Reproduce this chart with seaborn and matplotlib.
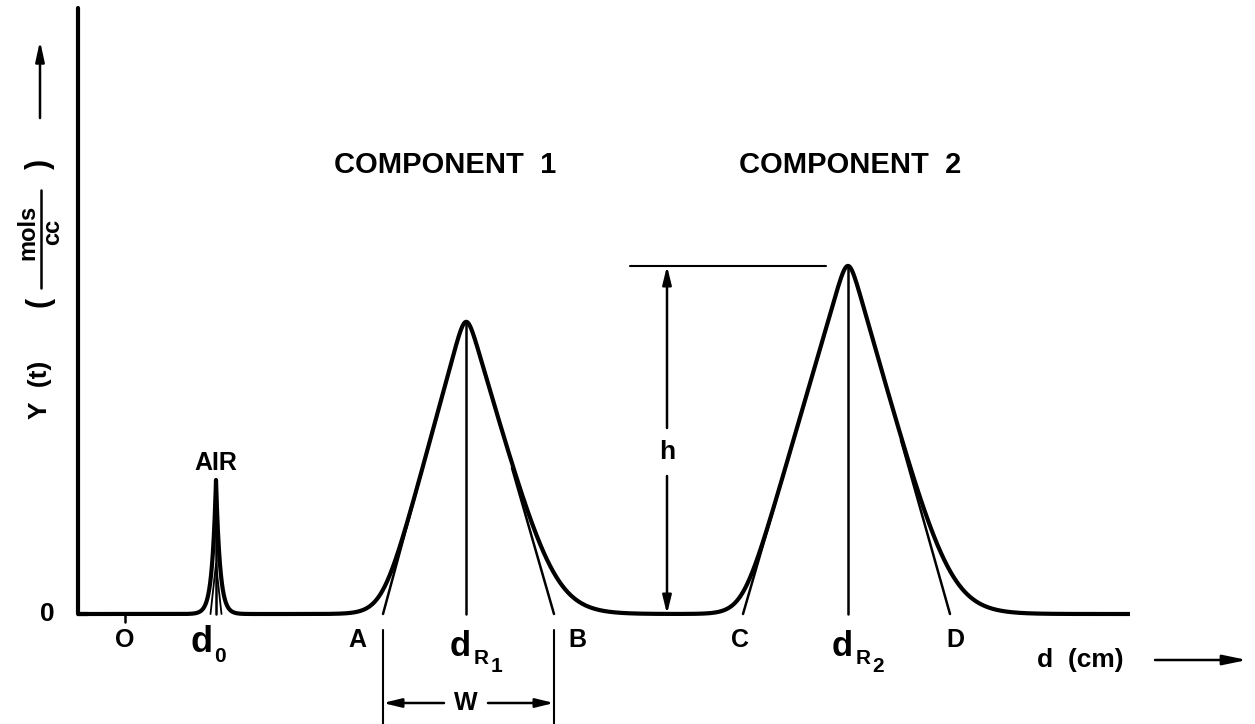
import numpy as np
import pandas as pd
import matplotlib
matplotlib.use("Agg")
import matplotlib.pyplot as plt
import seaborn as sns

# ---- chromatogram description (distance along column in cm, concentration in arbitrary units)
air_center = 13.8
air_height = 13.4
air_decay = 0.40

comp_labels = ["COMPONENT  1", "COMPONENT  2"]
comp_label_x = [36.7, 77.2]
comp_centers = [38.8, 77.0]
comp_heights = [29.2, 34.8]
tangent_left = [30.5, 66.5]     # A, C : where the inflection tangents meet the baseline
tangent_right = [47.6, 87.2]    # B, D
tail_left = [0.95, 0.92]
tail_right = [1.7, 1.75]
tangent_names = [("A", "B"), ("C", "D")]
retention_subs = ["1", "2"]

baseline_end = 105.2
axis_top = 60.6
origin_mark = 4.7

sns.set_theme(style="white")
plt.rcParams["font.family"] = ["Liberation Sans", "DejaVu Sans"]
plt.rcParams["font.weight"] = "bold"
plt.rcParams["text.color"] = "black"

INK = "black"
LW_MAIN = 3.0
LW_THIN = 1.8
ROUND = 2.0


def tangent_slopes(c, h, xa, xb, m=ROUND):
    """Tangents meet a little above the rounded top so that the curve peaks at h."""
    apex = h + m * np.log(2.0)
    return apex / (c - xa), apex / (xb - c), apex


def tailed_peak(x, c, h, xa, xb, kl, kr, m=ROUND):
    """Peak following its two tangents, with exponential feet and a rounded top."""
    s1, s2, _ = tangent_slopes(c, h, xa, xb, m)
    rise = s1 * kl * np.logaddexp(0.0, (x - xa) / kl)
    fall = s2 * kr * np.logaddexp(0.0, (xb - x) / kr)
    return -m * np.logaddexp(-rise / m, -fall / m)


x = np.union1d(np.linspace(0.0, baseline_end, 24001), [air_center])
signal = air_height * np.exp(-np.abs(x - air_center) / air_decay)
for c, h, xa, xb, kl, kr in zip(comp_centers, comp_heights, tangent_left,
                                tangent_right, tail_left, tail_right):
    signal = signal + tailed_peak(x, c, h, xa, xb, kl, kr)
trace = pd.DataFrame({"d": x, "Y": signal})

fig = plt.figure(figsize=(12.55, 7.24), dpi=100)
ax = fig.add_axes([0, 0, 1, 1])
ax.set_xlim(-7.8, 117.7)
ax.set_ylim(-11.0, 61.4)
ax.axis("off")

# detector trace (includes the baseline)
sns.lineplot(data=trace, x="d", y="Y", ax=ax, color=INK, lw=LW_MAIN,
             estimator=None, sort=False, solid_capstyle="butt")
# ordinate
sns.lineplot(x=[0, 0], y=[0, axis_top], ax=ax, color=INK, lw=LW_MAIN, estimator=None)
ax.plot([-0.15, 1.0], [0, 0], color=INK, lw=LW_MAIN, solid_capstyle="butt")

# origin mark on the distance axis
ax.plot([origin_mark, origin_mark], [0, -0.8], color=INK, lw=LW_THIN)
ax.text(origin_mark, -2.6, "O", ha="center", va="center", fontsize=18, fontweight="bold")
ax.text(-3.1, 0.0, "0", ha="center", va="center", fontsize=19, fontweight="bold")

# air peak: centre line and small tangents
ax.plot([air_center, air_center], [0, air_height], color=INK, lw=LW_THIN)
ax.plot([air_center - 0.55, air_center], [0, 5.0], color=INK, lw=1.3)
ax.plot([air_center + 0.55, air_center], [0, 5.0], color=INK, lw=1.3)
ax.text(air_center, air_height + 1.7, "AIR", ha="center", va="center",
        fontsize=18, fontweight="bold")
ax.text(air_center - 1.4, -2.9, "d", ha="center", va="center", fontsize=26, fontweight="bold")
ax.text(air_center + 0.35, -4.2, "0", ha="center", va="center", fontsize=15, fontweight="bold")

# component peaks: retention lines, tangents, labels
for i, (c, h, xa, xb) in enumerate(zip(comp_centers, comp_heights, tangent_left, tangent_right)):
    s1, s2, _ = tangent_slopes(c, h, xa, xb)
    ax.plot([c, c], [0, h], color=INK, lw=LW_THIN)
    top = 0.5 * h
    ax.plot([xa, xa + top / s1], [0, top], color=INK, lw=LW_THIN)
    ax.plot([xb, xb - top / s2], [0, top], color=INK, lw=LW_THIN)
    ax.text(comp_label_x[i], 44.9, comp_labels[i], ha="center", va="center",
            fontsize=21, fontweight="bold")
    na, nb = tangent_names[i]
    ax.text(xa - 2.6 if i == 0 else xa - 0.3, -2.6, na, ha="center", va="center",
            fontsize=18, fontweight="bold")
    ax.text(xb + 2.3 if i == 0 else xb + 0.5, -2.6, nb, ha="center", va="center",
            fontsize=18, fontweight="bold")
    ax.text(c - 0.6, -3.3, "d", ha="center", va="center", fontsize=25, fontweight="bold")
    ax.text(c + 1.5, -4.4, "R", ha="center", va="center", fontsize=15, fontweight="bold")
    ax.text(c + 3.0, -5.2, retention_subs[i], ha="center", va="center",
            fontsize=15, fontweight="bold")

arrow = dict(arrowstyle="-|>,head_length=0.9,head_width=0.22", color=INK, lw=LW_THIN,
             shrinkA=0, shrinkB=0)

# peak width W between the tangent intercepts of component 1
w_y = -8.9
for xv in (tangent_left[0], tangent_right[0]):
    ax.plot([xv, xv], [-1.6, -11.0], color=INK, lw=1.5)
ax.annotate("", xy=(tangent_left[0], w_y), xytext=(comp_centers[0] - 2.2, w_y), arrowprops=arrow)
ax.annotate("", xy=(tangent_right[0], w_y), xytext=(comp_centers[0] + 2.2, w_y), arrowprops=arrow)
ax.text(comp_centers[0], w_y, "W", ha="center", va="center", fontsize=18, fontweight="bold")

# peak height h of component 2
h_x = 58.9
ax.plot([55.2, comp_centers[1] - 2.2], [comp_heights[1], comp_heights[1]], color=INK, lw=1.5)
ax.annotate("", xy=(h_x, comp_heights[1]), xytext=(h_x, 18.6), arrowprops=arrow)
ax.annotate("", xy=(h_x, 0.0), xytext=(h_x, 13.8), arrowprops=arrow)
ax.text(h_x, 16.2, "h", ha="center", va="center", fontsize=19, fontweight="bold")

# abscissa caption
ax.text(100.2, -4.6, "d  (cm)", ha="center", va="center", fontsize=19, fontweight="bold")
ax.annotate("", xy=(116.9, -4.6), xytext=(107.7, -4.6),
            arrowprops=dict(arrowstyle="-|>,head_length=1.2,head_width=0.25",
                            color=INK, lw=LW_THIN, shrinkA=0, shrinkB=0))

# ordinate caption (rotated)
yx = -3.8
ax.text(yx, 22.4, "Y  (t)", ha="center", va="center", rotation=90,
        fontsize=19, fontweight="bold")
ax.text(yx, 31.2, "(", ha="center", va="center", rotation=90, fontsize=22)
ax.text(yx, 45.0, ")", ha="center", va="center", rotation=90, fontsize=22)
ax.plot([yx + 0.1, yx + 0.1], [32.6, 42.4], color=INK, lw=1.8)
ax.text(yx - 1.2, 38.2, "mols", ha="center", va="center", rotation=90,
        fontsize=17, fontweight="bold")
ax.text(yx + 1.3, 38.2, "cc", ha="center", va="center", rotation=90,
        fontsize=17, fontweight="bold")
ax.annotate("", xy=(yx, 57.3), xytext=(yx, 49.6),
            arrowprops=dict(arrowstyle="-|>,head_length=1.0,head_width=0.22",
                            color=INK, lw=LW_THIN, shrinkA=0, shrinkB=0))

fig.savefig("out.png", dpi=100)
